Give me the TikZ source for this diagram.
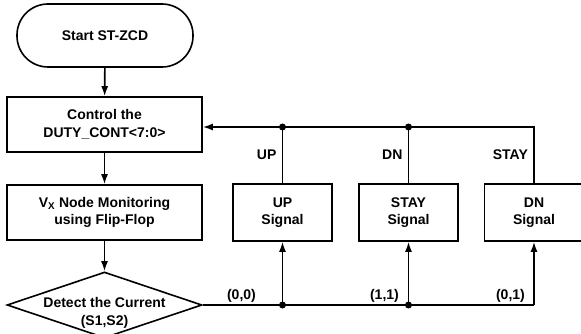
\documentclass[tikz,border=0pt]{standalone}
\usepackage{fontspec}
\setmainfont{Liberation Sans}
\usetikzlibrary{shapes.geometric,arrows.meta}

\begin{document}
\begin{tikzpicture}[x=1pt,y=-1pt,line width=1.6pt,
  every node/.style={font=\fontsize{14}{17.5}\selectfont\bfseries,align=center},
  blk/.style={draw,rectangle,minimum width=195pt,minimum height=55pt,inner sep=0pt},
  sig/.style={draw,rectangle,minimum width=99pt,minimum height=57pt,inner sep=0pt},
  arr/.style={-{Latex[length=10pt,width=7pt]}},
  dot/.style={circle,fill=black,inner sep=0pt,minimum size=7pt}]
\useasboundingbox (0,0) rectangle (581,334);
% flow on the left
\node [draw,rectangle,rounded corners=31pt,minimum width=176pt,minimum height=63pt] (start) at (105,35.5) {Start ST-ZCD};
\node [blk] (ctrl) at (104.5,124.5) {Control the\\DUTY\_CONT<7:0>};
\node [blk] (vx) at (104.5,212.5) {V\textsubscript{X} Node Monitoring\\using Flip-Flop};
\node [draw,diamond,minimum width=195pt,minimum height=66pt,inner sep=0pt] (det) at (104.5,305) {};
\node at (104.5,313) {Detect the Current\\(S1,S2)};
% signal blocks
\node [sig] (upsig) at (282.5,212.5) {UP\\Signal};
\node [sig] (staysig) at (408.5,212.5) {STAY\\Signal};
\node [sig] (dnsig) at (534,212.5) {DN\\Signal};
% junctions
\node [dot] (jtup) at (282.5,127) {};
\node [dot] (jtstay) at (408.5,127) {};
\coordinate (jtdn) at (534,127);
\node [dot] (jbup) at (282.5,305) {};
\node [dot] (jbstay) at (408.5,305) {};
\coordinate (jbdn) at (534,305);
\draw [arr] (start) -- (ctrl);
\draw [arr] (ctrl) -- (vx);
\draw [arr] (vx) -- (det);
% feedback
\draw [arr] (dnsig.north) -- node [left=2pt] {STAY} (jtdn) -- (ctrl.east |- jtdn);
\draw (upsig.north) -- node [left=2pt] {UP} (jtup.center);
\draw (staysig.north) -- node [left=2pt] {DN} (jtstay.center);
% detection outputs
\draw (det.east) -- (jbdn);
\draw [arr] (jbup.center) -- (upsig.south);
\draw [arr] (jbstay.center) -- (staysig.south);
\draw [arr] (jbdn) -- (dnsig.south);
\node [anchor=east] (l00) at (260,296) {(0,0)};
\node [anchor=east] (l11) at (403,296) {(1,1)};
\node [anchor=east] (l01) at (529,296) {(0,1)};
\end{tikzpicture}
\end{document}
